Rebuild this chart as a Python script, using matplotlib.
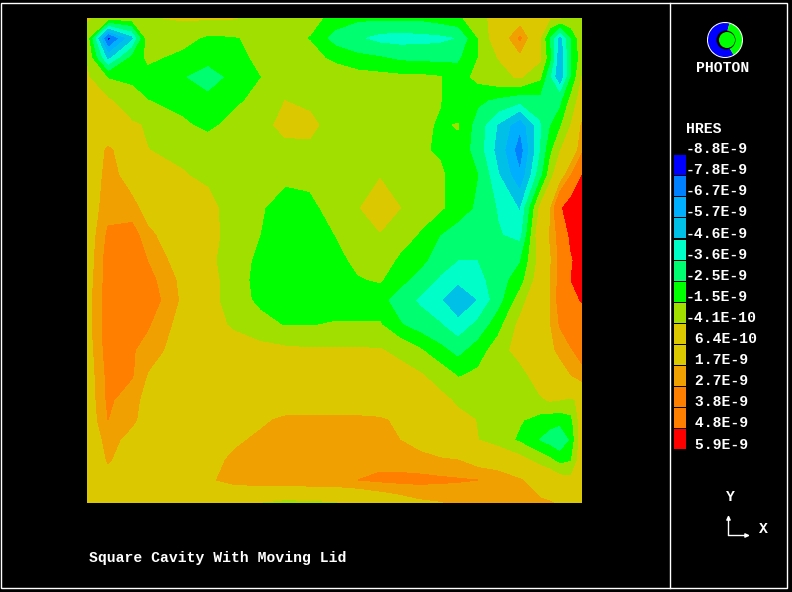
import matplotlib
matplotlib.use("Agg")
import matplotlib.pyplot as plt
import numpy as np
from matplotlib.patches import Circle, Rectangle, Wedge

x_nodes = [87, 108, 132, 148, 182, 208, 234, 260, 285, 310, 335, 358, 380,
           400, 420, 440, 458, 478, 498, 520, 540, 550, 560, 571, 582]
y_nodes = [18, 38, 58, 77, 100, 125, 150, 175, 208, 235, 260, 280, 300, 325,
           350, 375, 400, 420, 440, 460, 480, 503]

# HRES in units of 1e-9, one row per y node
hres = [
    [-0.3, -1.0, -1.0, -0.5, -0.3, -0.3, -0.35, -0.8, -1.0, -1.2, -1.8, -2.3, -2.3, -2.3, -2.3, -2.0, -1.7, -0.9, 0.1, 0.9, 0.2, -0.4, -0.4, -0.6, -0.7],
    [-0.9, -8.3, -5.0, -0.9, -1.1, -1.7, -1.6, -1.2, -1.2, -1.55, -3.0, -3.5, -4.0, -4.1, -4.0, -3.9, -3.6, -1.5, 0.4, 2.9, -0.4, -2.7, -5.2, -2.5, -0.7],
    [-0.5, -5.0, -2.2, -1.3, -1.8, -2.0, -2.0, -1.2, -1.1, -1.2, -1.7, -2.2, -2.4, -2.7, -2.8, -2.8, -2.7, -1.5, -0.4, 1.3, -0.2, -2.3, -5.7, -2.6, -1.0],
    [-0.3, -1.6, -1.8, -1.9, -2.4, -3.3, -2.1, -1.55, -1.1, -1.0, -1.0, -1.1, -1.2, -1.3, -1.3, -1.45, -2.0, -1.2, -0.7, -0.3, -1.3, -3.6, -5.7, -2.5, -0.4],
    [0.3, -0.3, -1.0, -1.5, -1.9, -2.1, -1.8, -1.1, -0.42, -0.6, -0.9, -1.0, -1.1, -1.2, -1.3, -1.45, -2.2, -2.3, -2.7, -3.2, -2.9, -3.1, -2.9, -1.2, 0.2],
    [0.6, 0.5, -0.3, -0.5, -1.3, -1.8, -1.1, -0.8, -0.1, -0.2, -0.8, -1.0, -1.1, -1.2, -1.3, -1.6, -1.45, -3.0, -4.7, -6.5, -3.8, -2.6, -1.7, -0.4, 1.9],
    [0.5, 1.9, 0.9, -0.4, -0.6, -0.8, -0.9, -0.9, -0.7, -0.6, -0.9, -1.1, -1.2, -1.3, -1.4, -1.6, -1.7, -3.1, -5.0, -7.3, -3.7, -1.8, -0.5, 0.6, 2.4],
    [0.6, 2.1, 1.2, 0.8, -0.35, -0.6, -0.8, -1.0, -1.3, -1.1, -0.7, -0.5, -0.5, -0.8, -1.1, -1.35, -1.9, -2.5, -4.5, -6.6, -3.0, -1.0, 0.8, 2.7, 4.8],
    [0.8, 2.3, 2.0, 1.3, 0.4, -0.1, -0.9, -1.4, -1.9, -1.9, -0.9, -0.5, 0.3, -0.4, -1.0, -1.35, -2.0, -2.7, -3.7, -4.7, -0.2, 1.5, 4.5, 5.8, 5.8],
    [0.8, 2.9, 3.3, 1.9, 1.0, 0.0, -0.9, -1.5, -2.0, -1.9, -1.5, -1.0, -0.5, -1.0, -1.6, -2.5, -3.0, -3.2, -3.5, -4.0, 0.5, 1.8, 3.2, 5.2, 5.8],
    [0.9, 3.2, 3.6, 2.65, 1.0, -0.1, -1.1, -1.7, -2.1, -2.1, -1.9, -1.2, -0.9, -1.7, -2.2, -3.0, -3.6, -3.6, -3.2, -2.6, 0.0, 1.5, 3.0, 4.6, 5.6],
    [1.0, 3.2, 3.8, 3.1, 1.4, 0.1, -1.1, -1.8, -2.2, -2.2, -2.0, -1.6, -1.4, -2.2, -2.9, -3.8, -4.4, -4.0, -3.0, -2.0, 0.3, 1.7, 3.1, 4.8, 5.5],
    [1.2, 3.3, 3.8, 3.4, 1.5, 0.1, -1.1, -1.7, -2.0, -2.1, -2.1, -2.1, -2.2, -3.0, -3.8, -4.5, -5.4, -4.6, -3.0, -1.0, 0.9, 1.7, 3.2, 4.4, 4.9],
    [1.2, 3.3, 3.2, 2.8, 1.2, 0.1, -0.6, -1.2, -1.55, -1.55, -1.4, -1.4, -1.4, -2.4, -3.0, -3.5, -4.3, -3.3, -1.9, -0.1, 1.3, 1.6, 2.8, 3.6, 3.8],
    [1.0, 3.2, 2.8, 2.3, 1.0, 0.5, 0.2, 0.0, -0.2, -0.3, -0.3, -0.3, -0.35, -0.7, -1.4, -2.2, -2.9, -2.0, -1.0, 0.1, 1.2, 1.5, 1.9, 2.6, 3.2],
    [0.9, 3.0, 2.8, 1.6, 1.0, 0.8, 0.6, 0.5, 0.3, 0.3, 0.2, 0.2, 0.1, 0.0, -0.3, -0.9, -1.6, -1.3, -0.8, -0.9, 0.3, 0.9, 1.3, 1.7, 2.3],
    [0.8, 2.9, 2.1, 1.25, 1.0, 0.9, 0.9, 0.9, 0.9, 0.8, 0.7, 0.6, 0.4, 0.3, 0.2, -0.1, -0.6, -0.9, -1.0, -1.0, -0.6, -0.3, -0.42, -0.6, -0.1],
    [0.7, 2.7, 1.9, 1.2, 1.0, 1.1, 1.2, 1.5, 1.9, 2.0, 2.0, 2.0, 1.9, 1.4, 1.0, 0.4, -0.1, -0.45, -1.0, -1.4, -1.9, -2.1, -2.2, -1.8, 0.3],
    [0.6, 2.1, 1.3, 1.2, 1.1, 1.2, 1.5, 1.9, 2.2, 2.3, 2.3, 2.3, 2.2, 1.7, 1.3, 0.9, 0.4, -0.4, -0.9, -1.7, -2.6, -3.0, -3.4, -2.4, 0.5],
    [0.5, 1.8, 1.1, 1.1, 1.1, 1.3, 1.9, 2.3, 2.5, 2.6, 2.6, 2.5, 2.4, 2.2, 2.0, 1.8, 1.7, 1.1, 0.6, 0.0, -0.9, -1.3, -1.9, -1.6, 0.4],
    [0.4, 1.2, 1.1, 1.1, 1.2, 1.5, 2.1, 2.4, 2.5, 2.6, 2.6, 2.7, 2.9, 3.0, 3.0, 2.9, 2.8, 2.7, 2.6, 1.8, 1.0, 0.6, 0.1, -0.1, 0.6],
    [0.3, 0.4, 0.5, 0.5, 0.4, 0.3, 0.0, -0.5, -0.9, -0.8, -0.6, -0.1, 0.4, 0.9, 1.4, 1.6, 1.8, 2.0, 2.0, 2.0, 1.9, 1.8, 1.5, 1.0, 0.7],
]

levels = [-8.8, -7.8, -6.7, -5.7, -4.6, -3.6, -2.5, -1.5, -0.41, 0.64, 1.7, 2.7, 3.8, 4.8, 5.9]
level_labels = ["-8.8E-9", "-7.8E-9", "-6.7E-9", "-5.7E-9", "-4.6E-9", "-3.6E-9", "-2.5E-9", "-1.5E-9",
                "-4.1E-10", " 6.4E-10", " 1.7E-9", " 2.7E-9", " 3.8E-9", " 4.8E-9", " 5.9E-9"]
colors = ["#0000FF", "#0080FF", "#00B0FF", "#00C0E8", "#00FFC8", "#00FF70", "#00FF00",
          "#A0DF00", "#DCC800", "#DCC800", "#F0A000", "#FF8000", "#FF8000", "#FF0000"]
label_y = [149, 170, 191, 212, 234, 255, 276, 297, 318, 339, 360, 381, 402, 423, 445]

W, H = 792, 592
mono = dict(family="Liberation Mono", weight="bold", fontsize=10.6, color="white", va="center")

fig = plt.figure(figsize=(W / 100, H / 100), dpi=100, facecolor="black")

# overlay in pixel coordinates for frame, legend and labels
bg = fig.add_axes([0, 0, 1, 1])
bg.set_xlim(0, W)
bg.set_ylim(H, 0)
bg.axis("off")
bg.add_patch(Rectangle((1, 3), 786, 585, fill=False, ec="white", lw=1))
bg.plot([669.5, 669.5], [3, 588], color="white", lw=1)

ax = fig.add_axes([87 / W, (H - 503) / H, 495 / W, 485 / H])
ax.contourf(x_nodes, y_nodes, np.array(hres), levels=levels, colors=colors, antialiased=False)
ax.set_xlim(87, 582)
ax.set_ylim(503, 18)
ax.axis("off")

# legend
for i, c in enumerate(colors):
    bg.add_patch(Rectangle((674, label_y[i] + 6), 12, 20, fc=c, ec="none"))
for y, lab in zip(label_y, level_labels):
    bg.text(686, y, lab, **mono)
bg.text(686, 129, "HRES", **mono)

# logo
cx, cy = 725, 40
bg.add_patch(Circle((cx, cy), 18, fc="white", ec="none"))
bg.add_patch(Wedge((cx, cy), 17, 60, 285, fc="#0000FF", ec="none"))
bg.add_patch(Wedge((cx, cy), 17, -75, 60, fc="#00FF00", ec="none"))
bg.add_patch(Circle((cx + 1, cy), 9.5, fc="black", ec="none"))
bg.add_patch(Circle((cx + 2, cy), 8, fc="#00FF00", ec="none"))
bg.text(722.5, 68, "PHOTON", ha="center", **mono)

# axis triad
bg.annotate("", xy=(728.5, 515), xytext=(728.5, 535.5), arrowprops=dict(arrowstyle="-|>,head_width=0.12,head_length=0.25", color="white", lw=1, shrinkA=0, shrinkB=0))
bg.annotate("", xy=(750, 535.5), xytext=(728.5, 535.5), arrowprops=dict(arrowstyle="-|>,head_width=0.12,head_length=0.25", color="white", lw=1, shrinkA=0, shrinkB=0))
bg.text(730, 497, "Y", ha="center", **mono)
bg.text(763, 529, "X", ha="center", **mono)

bg.text(89, 558, "Square Cavity With Moving Lid", **mono)

fig.savefig("out.png", dpi=100, facecolor="black")
